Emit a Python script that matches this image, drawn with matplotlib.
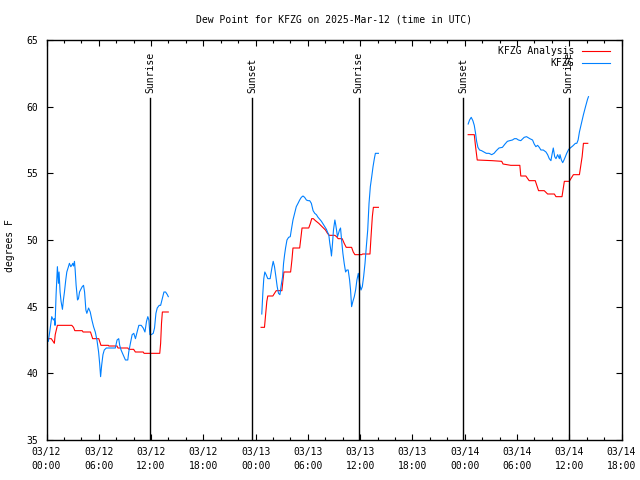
import matplotlib
matplotlib.use("Agg")
import matplotlib.pyplot as plt
import matplotlib.transforms as mtransforms
from matplotlib.lines import Line2D
import numpy as np

# ---- data (hours since 2025-03-12 00:00 UTC) ----
blue_t1 = [0.21, 0.40, 0.60, 0.79, 0.90, 0.98, 1.10, 1.25, 1.37, 1.44, 1.56, 1.67, 1.83, 1.94, 2.06, 2.21,
           2.33, 2.52, 2.63, 2.79, 2.90, 3.02, 3.10, 3.21, 3.29, 3.40, 3.56, 3.67, 3.79, 3.94, 4.10, 4.25,
           4.37, 4.52, 4.63, 4.83, 5.02, 5.21, 5.40, 5.60, 5.79, 5.98, 6.10, 6.21, 6.33, 6.48, 6.63, 6.87,
           7.13, 7.52, 7.90, 8.10, 8.29, 8.40, 8.56, 8.79, 9.06, 9.33, 9.44, 9.63, 9.83, 10.02, 10.21, 10.40,
           10.60, 10.87, 11.10, 11.30, 11.48, 11.63, 11.75, 11.87, 12.02, 12.25, 12.40, 12.56, 12.71, 12.94,
           13.10, 13.29, 13.48, 13.67, 13.87, 13.98]
blue_v1 = [42.4, 43.25, 44.25, 44.0, 44.1, 43.6, 45.9, 48.0, 46.75, 47.6, 46.1, 45.4, 44.8, 45.5, 46.1, 47.0,
           47.6, 48.0, 48.25, 48.0, 48.1, 48.25, 48.05, 48.4, 47.75, 46.6, 45.5, 45.6, 46.1, 46.3, 46.5, 46.6,
           46.1, 44.75, 44.5, 44.9, 44.6, 44.0, 43.5, 43.1, 42.5, 41.6, 40.75, 39.75, 40.6, 41.4, 41.75, 41.9,
           41.9, 41.9, 41.9, 42.5, 42.6, 42.1, 41.75, 41.4, 41.0, 41.0, 41.6, 42.25, 42.9, 43.0, 42.6, 43.1,
           43.6, 43.6, 43.4, 43.1, 43.9, 44.25, 44.0, 42.9, 42.9, 43.0, 43.4, 44.5, 44.9, 45.1,
           45.1, 45.6, 46.1, 46.1, 45.9, 45.75]

blue_t2 = [24.71, 24.83, 24.94, 25.06, 25.21, 25.40, 25.67, 25.87, 26.02, 26.17, 26.33, 26.48, 26.63, 26.79,
           26.94, 27.10, 27.21, 27.33, 27.44, 27.60, 27.79, 27.98, 28.10, 28.29, 28.48, 28.67, 28.87, 29.06,
           29.25, 29.44, 29.63, 29.83, 30.02, 30.21, 30.40, 30.60, 30.79, 30.98, 31.17, 31.37, 31.56, 31.75,
           31.94, 32.13, 32.25, 32.40, 32.52, 32.63, 32.71, 32.83, 32.94, 33.10, 33.21, 33.29, 33.40, 33.52,
           33.63, 33.75, 33.87, 34.02, 34.17, 34.33, 34.48, 34.63, 34.79, 34.90, 35.02, 35.17, 35.33, 35.48,
           35.63, 35.79, 35.94, 36.10, 36.25, 36.40, 36.56, 36.71, 36.87, 37.02, 37.17, 37.33, 37.48, 37.63,
           37.75, 38.10]
blue_v2 = [44.45, 46.0, 47.1, 47.6, 47.4, 47.1, 47.1, 47.9, 48.4, 48.0, 47.25, 46.5, 46.0, 45.9,
           46.6, 47.25, 48.25, 48.9, 49.4, 50.0, 50.2, 50.25, 50.75, 51.5, 52.0, 52.5, 52.75, 53.0,
           53.2, 53.3, 53.2, 53.0, 52.95, 52.95, 52.75, 52.2, 52.0, 51.9, 51.7, 51.55, 51.4, 51.2,
           51.0, 50.8, 50.6, 50.4, 49.75, 49.25, 48.8, 49.75, 50.75, 51.5, 51.1, 50.75, 50.25, 50.5,
           50.75, 50.9, 50.0, 49.0, 48.25, 47.6, 47.75, 47.75, 47.0, 46.25, 45.0, 45.4, 45.75, 46.25,
           47.0, 47.5, 46.75, 46.25, 46.5, 47.25, 48.25, 49.5, 50.75, 52.75, 54.0, 54.75, 55.5, 56.1,
           56.5, 56.5]

blue_t3 = [48.40, 48.56, 48.75, 48.94, 49.10, 49.25, 49.37, 49.52, 49.71, 49.94, 50.21, 50.48, 50.79, 51.10,
           51.37, 51.63, 51.94, 52.33, 52.63, 52.90, 53.17, 53.48, 53.71, 53.94, 54.17, 54.44, 54.83, 55.10,
           55.48, 55.79, 55.98, 56.17, 56.37, 56.56, 56.75, 57.02, 57.33, 57.52, 57.71, 57.90, 58.02, 58.17,
           58.33, 58.48, 58.67, 58.87, 58.94, 59.10, 59.25, 59.40, 59.56, 59.71, 59.94, 60.21, 60.40, 60.71,
           60.87, 61.02, 61.17, 61.40, 61.63, 61.87, 62.10, 62.21]
blue_v3 = [58.7, 59.0, 59.2, 58.95, 58.6, 58.0, 57.4, 56.95, 56.75, 56.7, 56.6, 56.5, 56.5, 56.4,
           56.5, 56.7, 56.9, 56.95, 57.2, 57.4, 57.45, 57.5, 57.6, 57.6, 57.5, 57.45, 57.7, 57.75,
           57.6, 57.5, 57.2, 57.0, 57.1, 56.95, 56.75, 56.75, 56.6, 56.4, 56.1, 55.95, 56.4, 56.9,
           56.25, 56.1, 56.4, 56.1, 56.4, 56.0, 55.8, 56.0, 56.25, 56.5, 56.8, 56.95, 57.05, 57.25,
           57.25, 57.5, 58.1, 58.75, 59.4, 60.0, 60.55, 60.75]

red_t1 = [0.21, 0.55, 0.75, 0.90, 1.00, 1.25, 2.90, 3.10, 3.25, 4.10, 4.20, 5.05, 5.15, 5.30, 6.00, 6.10,
          6.25, 7.10, 7.15, 8.10, 8.20, 9.33, 9.45, 10.00, 10.20, 11.10, 11.20, 13.00, 13.10, 13.20, 13.30, 13.98]
red_v1 = [42.6, 42.6, 42.4, 42.25, 42.9, 43.6, 43.6, 43.45, 43.2, 43.2, 43.1, 43.1, 42.9, 42.6, 42.6, 42.4,
          42.1, 42.1, 42.05, 42.05, 41.9, 41.9, 41.8, 41.8, 41.6, 41.6, 41.5, 41.5, 42.25, 43.75, 44.6, 44.6]

red_t2 = [24.63, 25.02, 25.13, 25.29, 25.40, 25.98, 26.17, 26.37, 27.02, 27.13, 27.25, 28.02, 28.17, 28.29,
          29.06, 29.17, 29.33, 30.10, 30.29, 30.44, 30.63, 30.87, 31.25, 31.63, 32.02, 32.25, 32.44, 33.10,
          33.29, 33.48, 33.94, 34.17, 34.40, 35.02, 35.21, 35.40, 36.17, 36.29, 37.13, 37.25, 37.40, 37.52, 38.10]
red_v2 = [43.45, 43.45, 44.25, 45.4, 45.8, 45.8, 46.0, 46.2, 46.2, 46.9, 47.6, 47.6, 48.5, 49.4,
          49.4, 50.0, 50.9, 50.9, 51.25, 51.6, 51.6, 51.45, 51.25, 51.0, 50.75, 50.5, 50.35, 50.35,
          50.25, 50.1, 50.1, 49.75, 49.45, 49.45, 49.1, 48.9, 48.9, 48.95, 48.95, 50.25, 51.75, 52.45, 52.45]

red_t3 = [48.40, 49.10, 49.25, 49.44, 51.17, 52.25, 52.40, 53.29, 54.33, 54.44, 55.02, 55.40, 56.10, 56.48,
          57.13, 57.52, 58.29, 58.48, 59.17, 59.44, 60.00, 60.48, 61.17, 61.48, 61.63, 62.13]
red_v3 = [57.9, 57.9, 57.0, 56.0, 55.95, 55.9, 55.7, 55.6, 55.6, 54.8, 54.8, 54.45, 54.45, 53.7,
          53.7, 53.45, 53.45, 53.25, 53.25, 54.4, 54.4, 54.9, 54.9, 56.25, 57.25, 57.25]

sun_events = [11.9, 23.63, 35.85, 47.85, 59.95]
sun_labels = ["Sunrise", "Sunset", "Sunrise", "Sunset", "Sunrise"]

tick_hours = list(range(0, 67, 6))
tick_labels = ["03/12\n00:00", "03/12\n06:00", "03/12\n12:00", "03/12\n18:00",
               "03/13\n00:00", "03/13\n06:00", "03/13\n12:00", "03/13\n18:00",
               "03/14\n00:00", "03/14\n06:00", "03/14\n12:00", "03/14\n18:00"]
y_ticks = [35, 40, 45, 50, 55, 60, 65]

title = "Dew Point for KFZG on 2025-Mar-12 (time in UTC)"
series_names = ["KFZG Analysis", "KFZG"]
red = "#ff0000"
blue = "#0080ff"

plt.rcParams['font.family'] = ['DejaVu Sans Mono']
FS = 7

W, H = 640, 480
fig = plt.figure(figsize=(W / 100, H / 100), dpi=100)
L, R, B, T = 46.5, 621.5, 440, 40
ax = fig.add_axes([L / W, 1 - B / H, (R - L) / W, (B - T) / H])

lw = 0.8
for t, v in [(red_t1, red_v1), (red_t2, red_v2), (red_t3, red_v3)]:
    ax.plot(t, v, color=red, lw=lw)
for t, v in [(blue_t1, blue_v1), (blue_t2, blue_v2), (blue_t3, blue_v3)]:
    ax.plot(t, v, color=blue, lw=lw)

trans = mtransforms.blended_transform_factory(ax.transData, ax.transAxes)
line_top = (B - 98) / (B - T)
text_bot = (B - 93) / (B - T)
for x, lab in zip(sun_events, sun_labels):
    ax.plot([x, x], [0, line_top], color='black', lw=1.0, transform=trans)
    ax.text(x, text_bot, lab, rotation=90, ha='center', va='bottom', transform=trans, fontsize=FS)

ax.set_xlim(0, 66.0)
ax.set_ylim(35, 65)
ax.set_xticks(tick_hours)
ax.set_xticklabels(tick_labels, linespacing=1.45)
ax.set_xticks(np.arange(0, 67, 2), minor=True)
ax.set_yticks(y_ticks)
ax.tick_params(axis='both', which='both', direction='in', top=True, right=True, labelsize=FS, width=0.8)
ax.tick_params(axis='x', which='major', length=4, pad=5)
ax.tick_params(axis='x', which='minor', length=2)
ax.tick_params(axis='y', which='major', length=4, pad=6)
for s in ax.spines.values():
    s.set_linewidth(1.0)

fig.text((L + R) / 2 / W, 1 - 20 / H, title, ha='center', va='center', fontsize=FS)
fig.text(10 / W, 1 - 246 / H, "degrees F", rotation=90, ha='center', va='center', fontsize=FS)

# legend
leg_y = [51, 63]
for name, col, yy in zip(series_names, [red, blue], leg_y):
    fig.text(574 / W, 1 - yy / H, name, ha='right', va='center', fontsize=FS)
    fig.add_artist(Line2D([582 / W, 610 / W], [1 - yy / H, 1 - yy / H], transform=fig.transFigure,
                          color=col, lw=lw))

fig.savefig("out.png", dpi=100)
